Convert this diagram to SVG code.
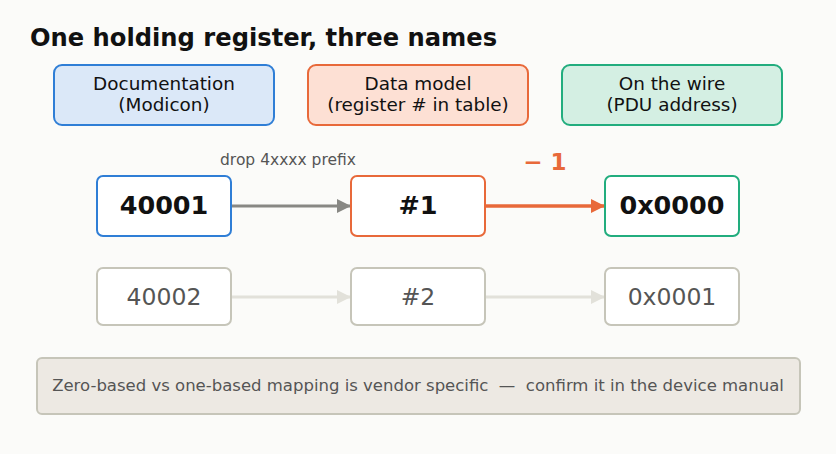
<svg xmlns="http://www.w3.org/2000/svg" width="836" height="454" viewBox="0 0 836 454">
<style>
text{font-family:"DejaVu Sans","Liberation Sans",sans-serif;text-anchor:middle}
.title{font-size:24.2px;font-weight:bold;fill:#111;text-anchor:start}
.hdr{font-size:18.4px;fill:#111}
.big{font-size:25.5px;font-weight:bold;fill:#111}
.sm{font-size:23.5px;fill:#555}
.lbl{font-size:15.5px;fill:#555}
.note{font-size:16.5px;fill:#555;white-space:pre}
.box{fill:#fff;stroke-width:2}
.dim{fill:#fff;stroke:#c6c5b9;stroke-width:2}
</style>
<defs>
<marker id="ag" viewBox="0 0 10 10" refX="10" refY="5" markerWidth="14" markerHeight="14" markerUnits="userSpaceOnUse" orient="auto"><path d="M0,0L10,5L0,10z" fill="#888884"/></marker>
<marker id="ao" viewBox="0 0 10 10" refX="10" refY="5" markerWidth="16" markerHeight="14" markerUnits="userSpaceOnUse" orient="auto"><path d="M0,0L10,5L0,10z" fill="#e8693a"/></marker>
<marker id="al" viewBox="0 0 10 10" refX="10" refY="5" markerWidth="14" markerHeight="14" markerUnits="userSpaceOnUse" orient="auto"><path d="M0,0L10,5L0,10z" fill="#e2e1da"/></marker>
</defs>
<rect width="836" height="454" fill="#fbfbf9"/>
<text class="title" x="30" y="46">One holding register, three names</text>

<g id="hdr-doc"><rect x="54" y="65" width="220" height="60" rx="8" fill="#dbe8f8" stroke="#2f7ed6" stroke-width="2"/><text class="hdr" x="164" y="90">Documentation</text><text class="hdr" x="164" y="111">(Modicon)</text></g>
<g id="hdr-model"><rect x="308" y="65" width="220" height="60" rx="8" fill="#fde0d4" stroke="#e8693a" stroke-width="2"/><text class="hdr" x="418" y="90">Data model</text><text class="hdr" x="418" y="111">(register # in table)</text></g>
<g id="hdr-wire"><rect x="562" y="65" width="220" height="60" rx="8" fill="#d4efe3" stroke="#22ad7e" stroke-width="2"/><text class="hdr" x="672" y="90">On the wire</text><text class="hdr" x="672" y="111">(PDU address)</text></g>

<g id="connectors">
<line x1="231" y1="206" x2="351" y2="206" stroke="#888884" stroke-width="3" marker-end="url(#ag)"/>
<line x1="485" y1="206" x2="605" y2="206" stroke="#e8693a" stroke-width="3.5" marker-end="url(#ao)"/>
<line x1="231" y1="297" x2="351" y2="297" stroke="#e2e1da" stroke-width="3" marker-end="url(#al)"/>
<line x1="485" y1="297" x2="605" y2="297" stroke="#e2e1da" stroke-width="3" marker-end="url(#al)"/>
<text class="lbl" x="288" y="165">drop 4xxxx prefix</text>
<text x="545" y="170" style="font-size:23px;font-weight:bold;fill:#e8693a">− 1</text>
</g>

<g id="n-40001"><rect class="box" x="97" y="176" width="134" height="60" rx="6" stroke="#2f7ed6"/><text class="big" x="164" y="214">40001</text></g>
<g id="n-1"><rect class="box" x="351" y="176" width="134" height="60" rx="6" stroke="#e8693a"/><text class="big" x="418" y="214">#1</text></g>
<g id="n-0x0000"><rect class="box" x="605" y="176" width="134" height="60" rx="6" stroke="#22ad7e"/><text class="big" x="672" y="214">0x0000</text></g>

<g id="n-40002"><rect class="dim" x="97" y="268" width="134" height="57" rx="6"/><text class="sm" x="164" y="305">40002</text></g>
<g id="n-2"><rect class="dim" x="351" y="268" width="134" height="57" rx="6"/><text class="sm" x="418" y="305">#2</text></g>
<g id="n-0x0001"><rect class="dim" x="605" y="268" width="134" height="57" rx="6"/><text class="sm" x="672" y="305">0x0001</text></g>

<g id="note"><rect x="37" y="358" width="763" height="56" rx="5" fill="#ede9e3" stroke="#c6c5b9" stroke-width="2"/><text class="note" x="418" y="391" xml:space="preserve">Zero-based vs one-based mapping is vendor specific  —  confirm it in the device manual</text></g>
</svg>
